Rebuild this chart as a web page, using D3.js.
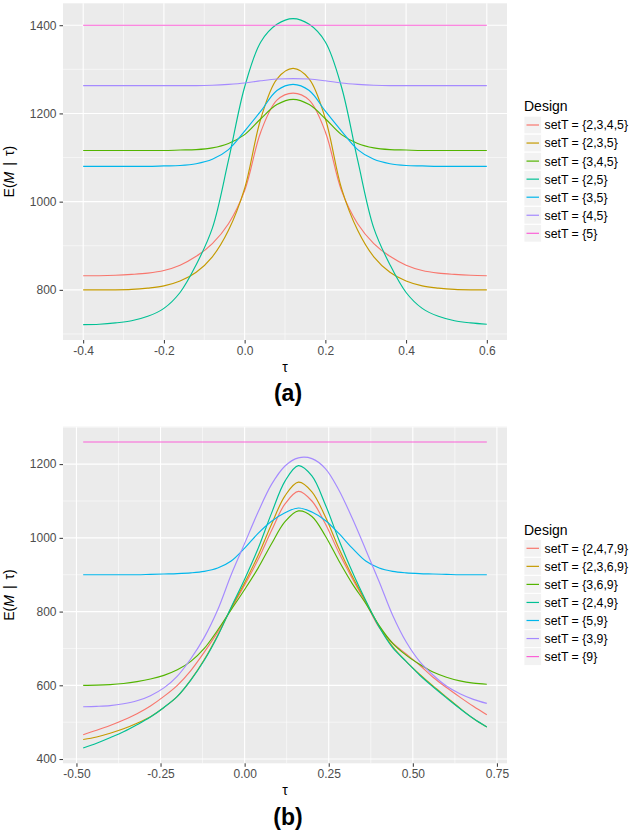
<!DOCTYPE html>
<html><head><meta charset="utf-8">
<script src="https://cdn.jsdelivr.net/npm/d3@7"></script>
<style>
body{margin:0;background:#fff}
svg{display:block}
text{font-family:"Liberation Sans",Arial,Helvetica,sans-serif}
</style>
</head><body>
<svg id="c" width="634" height="833"></svg>
<script>
// ---------------- data ----------------
const colors = ["#F8766D","#C49A00","#53B400","#00C094","#00B6EB","#A58AFF","#FB61D7"];

// Panel (a)
const tauA = [-0.40,-0.36,-0.32,-0.28,-0.24,-0.20,-0.16,-0.12,-0.08,-0.04,0,0.04,0.08,0.12,0.16,0.20,0.24,0.28,0.32,0.36,0.40,0.44,0.48,0.52,0.56,0.60];
const designsA = ["setT = {2,3,4,5}","setT = {2,3,5}","setT = {3,4,5}","setT = {2,5}","setT = {3,5}","setT = {4,5}","setT = {5}"];
const a_2345 = [832,832,833,835,838,844,856,876,905,950,1025,1158,1230,1246,1230,1158,1025,950,905,876,856,844,838,835,833,832];
const a_235  = [800,800,800,801,804,809,820,840,875,935,1030,1188,1278,1302,1278,1188,1030,935,875,840,820,809,804,801,800,800];
const a_345  = [1116,1116,1116,1116,1116,1116,1117,1118,1122,1132,1152,1188,1220,1232,1220,1188,1152,1132,1122,1118,1117,1116,1116,1116,1116,1116];
const a_25   = [721,722,725,730,740,758,794,857,940,1094,1260,1362,1402,1415,1402,1362,1260,1094,940,857,794,758,740,730,725,722];
const a_35   = [1080,1080,1080,1080,1080,1081,1082,1086,1096,1118,1160,1205,1252,1266,1252,1205,1160,1118,1096,1086,1082,1081,1080,1080,1080,1080];
const a_45   = [1263,1263,1263,1263,1263,1263,1263,1263,1264,1266,1269,1274,1278,1279,1278,1274,1269,1266,1264,1263,1263,1263,1263,1263,1263,1263];
const a_5    = [1400,1400,1400,1400,1400,1400,1400,1400,1400,1400,1400,1400,1400,1400,1400,1400,1400,1400,1400,1400,1400,1400,1400,1400,1400,1400];
const xTicksA = [-0.4,-0.2,0,0.2,0.4,0.6];
const xTickLabelsA = ["-0.4","-0.2","0.0","0.2","0.4","0.6"];
const yTicksA = [800,1000,1200,1400];
const yTickLabelsA = ["800","1000","1200","1400"];

// Panel (b)
const tauB = [-0.48,-0.44,-0.40,-0.36,-0.32,-0.28,-0.24,-0.20,-0.16,-0.12,-0.08,-0.04,0,0.04,0.08,0.12,0.16,0.20,0.24,0.28,0.32,0.36,0.40,0.44,0.48,0.52,0.56,0.60,0.64,0.68,0.72];
const designsB = ["setT = {2,4,7,9}","setT = {2,3,6,9}","setT = {3,6,9}","setT = {2,4,9}","setT = {5,9}","setT = {3,9}","setT = {9}"];
const b_2479 = [466,478,491,506,523,544,570,600,640,690,745,808,872,941,1020,1092,1126,1100,1038,960,890,825,757,715,685,655,622,594,568,543,520];
const b_2369 = [453,460,470,482,497,515,540,570,615,670,736,810,878,952,1037,1114,1151,1125,1057,972,896,828,760,705,665,630,598,568,538,510,487];
const b_369  = [600,600.5,602,605,610,617,627,642,665,700,750,805,860,918,984,1044,1073,1058,1005,938,876,822,762,714,682,657,636,622,612,606,603];
const b_249  = [430,443,458,474,493,514,540,570,614,668,734,812,888,971,1067,1154,1196,1168,1090,995,908,830,758,702,665,628,596,566,537,510,487];
const b_59   = [900,900,900,900,900,901,902,903,905,909,918,937,972,1012,1045,1068,1081,1070,1047,1012,972,937,918,909,905,903,902,901,900,900,900];
const b_39   = [542,543,545,550,558,572,593,625,672,730,805,900,985,1070,1145,1195,1217,1215,1188,1130,1053,968,881,790,718,665,628,598,577,562,551];
const b_9    = [1260,1260,1260,1260,1260,1260,1260,1260,1260,1260,1260,1260,1260,1260,1260,1260,1260,1260,1260,1260,1260,1260,1260,1260,1260,1260,1260,1260,1260,1260,1260];
const xTicksB = [-0.5,-0.25,0,0.25,0.5,0.75];
const xTickLabelsB = ["-0.50","-0.25","0.00","0.25","0.50","0.75"];
const yTicksB = [400,600,800,1000,1200];
const yTickLabelsB = ["400","600","800","1000","1200"];

// ---------------- drawing ----------------
const svg = d3.select("#c");
svg.append("rect").attr("width",634).attr("height",833).attr("fill","#fff");

function expand(ext){ const p=(ext[1]-ext[0])*0.05; return [ext[0]-p, ext[1]+p]; }

function minorBreaks(major, dom){
  const step = major[1]-major[0];
  const b = [major[0]-step, ...major, major[major.length-1]+step];
  const out = [];
  for (let i=0;i<b.length-1;i++){ const m=(b[i]+b[i+1])/2; if (m>=dom[0] && m<=dom[1]) out.push(m); }
  return out;
}

function panel(cfg){
  const L=63, R=507;
  const g = svg.append("g");
  const all = cfg.series.flat();
  const x = d3.scaleLinear().domain(expand(d3.extent(cfg.tau))).range([L,R]);
  const y = d3.scaleLinear().domain(expand(d3.extent(all))).range([cfg.bottom,cfg.top]);

  g.append("rect").attr("x",L).attr("y",cfg.top).attr("width",R-L).attr("height",cfg.bottom-cfg.top).attr("fill","#EBEBEB");

  // minor grid
  minorBreaks(cfg.xTicks, x.domain()).forEach(v=>{
    g.append("line").attr("x1",x(v)).attr("x2",x(v)).attr("y1",cfg.top).attr("y2",cfg.bottom).attr("stroke","#fff").attr("stroke-width",0.55);
  });
  minorBreaks(cfg.yTicks, y.domain()).forEach(v=>{
    g.append("line").attr("x1",L).attr("x2",R).attr("y1",y(v)).attr("y2",y(v)).attr("stroke","#fff").attr("stroke-width",0.55);
  });
  // major grid
  cfg.xTicks.forEach(v=>{
    g.append("line").attr("x1",x(v)).attr("x2",x(v)).attr("y1",cfg.top).attr("y2",cfg.bottom).attr("stroke","#fff").attr("stroke-width",1.1);
  });
  cfg.yTicks.forEach(v=>{
    g.append("line").attr("x1",L).attr("x2",R).attr("y1",y(v)).attr("y2",y(v)).attr("stroke","#fff").attr("stroke-width",1.1);
  });

  // lines
  const line = d3.line().x((d,i)=>x(cfg.tau[i])).y(d=>y(d)).curve(d3.curveCatmullRom.alpha(0.5));
  cfg.series.forEach((s,i)=>{
    g.append("path").attr("d",line(s)).attr("fill","none").attr("stroke",colors[i]).attr("stroke-width",1.15);
  });

  // axes
  const xa = g.append("g").attr("transform",`translate(0,${cfg.bottom})`)
    .call(d3.axisBottom(x).tickValues(cfg.xTicks).tickFormat((d,i)=>cfg.xLabels[i]).tickSize(3.5).tickPadding(3));
  const ya = g.append("g").attr("transform",`translate(${L},0)`)
    .call(d3.axisLeft(y).tickValues(cfg.yTicks).tickFormat((d,i)=>cfg.yLabels[i]).tickSize(3.5).tickPadding(3));
  [xa,ya].forEach(a=>{
    a.select(".domain").remove();
    a.selectAll(".tick line").attr("stroke","#333").attr("stroke-width",1);
    a.selectAll(".tick text").attr("fill","#4D4D4D").style("font-size","12px").style("font-family","'Liberation Sans',Arial,sans-serif");
  });

  // axis titles
  const cy = (cfg.top+cfg.bottom)/2;
  const yt = g.append("text").attr("transform",`translate(14,${cy}) rotate(-90)`).attr("text-anchor","middle")
    .style("font-size","14px").attr("fill","#000");
  yt.append("tspan").text("E(");
  yt.append("tspan").attr("font-style","italic").text("M");
  yt.append("tspan").attr("dx",6).text("|");
  yt.append("tspan").attr("dx",6).text("τ");
  yt.append("tspan").text(")");

  g.append("text").attr("x",(L+R)/2).attr("y",cfg.bottom+32).attr("text-anchor","middle")
    .style("font-size","14px").text("τ");
  g.append("text").attr("x",288).attr("y",cfg.label_y).attr("text-anchor","middle")
    .style("font-size","23px").style("font-weight","bold").text(cfg.label);

  // legend
  const lx = 524;
  g.append("text").attr("x",lx).attr("y",cfg.legTitleY).style("font-size","14px").text("Design");
  cfg.designs.forEach((d,i)=>{
    const cyk = cfg.legFirst + i*18.05;
    g.append("rect").attr("x",lx).attr("y",cyk-8.8).attr("width",17.5).attr("height",17.6)
      .attr("fill","#F2F2F2").attr("stroke","#fff").attr("stroke-width",0.8);
    g.append("line").attr("x1",lx+2.5).attr("x2",lx+15).attr("y1",cyk).attr("y2",cyk)
      .attr("stroke",colors[i]).attr("stroke-width",1.2);
    g.append("text").attr("x",lx+20.5).attr("y",cyk).attr("dy","0.36em").style("font-size","12.3px").text(d);
  });
}

panel({tau:tauA, series:[a_2345,a_235,a_345,a_25,a_35,a_45,a_5], designs:designsA,
  xTicks:xTicksA, xLabels:xTickLabelsA, yTicks:yTicksA, yLabels:yTickLabelsA,
  top:3.3, bottom:340, label:"(a)", label_y:401, legTitleY:111, legFirst:125});

panel({tau:tauB, series:[b_2479,b_2369,b_369,b_249,b_59,b_39,b_9], designs:designsB,
  xTicks:xTicksB, xLabels:xTickLabelsB, yTicks:yTicksB, yLabels:yTickLabelsB,
  top:426.7, bottom:763.3, label:"(b)", label_y:825, legTitleY:535, legFirst:548.3});
</script>
</body></html>
